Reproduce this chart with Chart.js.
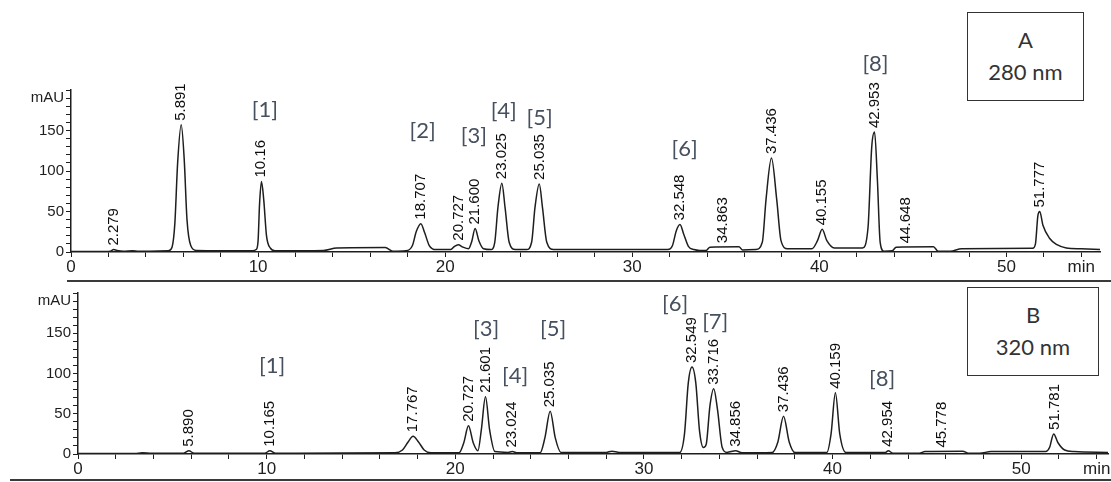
<!DOCTYPE html>
<html>
<head>
<meta charset="utf-8">
<script src="https://cdn.jsdelivr.net/npm/chart.js@4.4.1/dist/chart.umd.min.js"></script>
<style>
  body { margin: 0; background: #fff; width: 1111px; height: 482px; position: relative; overflow: hidden; }
  canvas { position: absolute; left: 0; }
  #chartA { top: 0; }
  #chartB { top: 282px; }
  .rule { position: absolute; height: 0; border-top: 2px solid #3a3a3a; }
  .box { position: absolute; border: 1.5px solid #333; background: #fff; text-align: center;
         font-family: Lato, "Open Sans", sans-serif; font-size: 22px; line-height: 32px; color: #333; box-sizing: border-box; padding-top: 11px; }
</style>
</head>
<body>
<canvas id="chartA" width="1111" height="282"></canvas>
<canvas id="chartB" width="1111" height="200"></canvas>
<div class="rule" style="left:67px; top:280px; width:1044px;"></div>
<div class="rule" style="left:10px; top:479px; width:1101px;"></div>
<div class="box" style="left:967px; top:12px; width:117px; height:89px;">A<br>280 nm</div>
<div class="box" style="left:967px; top:287px; width:132px; height:89px;">B<br>320 nm</div>
<script>
// panel A, 280 nm: trace (min, mAU)
const timeA = [
  0, 1.5, 2.1, 2.28, 2.45, 2.8, 3.3, 3.6, 4.2,
  5.2, 5.4, 5.55, 5.7, 5.89, 6.05, 6.2, 6.4, 6.7,
  9.7, 9.9, 10.0, 10.08, 10.18, 10.3, 10.45, 10.65, 10.9,
  13.5, 14.2, 16.8, 17.2,
  17.9, 18.25, 18.45, 18.7, 18.9, 19.15, 19.5,
  20.3, 20.5, 20.7, 20.95, 21.25, 21.42, 21.6, 21.8, 22.05,
  22.45, 22.65, 22.82, 23.03, 23.2, 23.42, 23.75,
  24.35, 24.62, 24.8, 25.03, 25.2, 25.43, 25.8,
  31.9, 32.15, 32.35, 32.55, 32.75, 33.0, 33.3,
  33.6, 33.95, 34.15, 35.7, 35.9,
  36.6, 36.95, 37.15, 37.44, 37.72, 37.95, 38.3,
  39.6, 39.9, 40.15, 40.4, 40.8,
  42.3, 42.6, 42.8, 42.95, 43.1, 43.25, 43.45,
  43.9, 44.1, 46.1, 46.35, 47.0, 47.6,
  51.4, 51.55, 51.68, 51.78, 51.95, 52.3, 52.7, 53.2, 54.0, 55
];
const mauA = [
  0.5, 0.5, 1, 3, 2, 1, 1.5, 1, 1,
  1.5, 6, 35, 110, 157, 115, 40, 8, 2,
  1.5, 3, 14, 60, 87, 65, 20, 5, 1.5,
  2, 5, 5.5, 1,
  1.5, 8, 25, 35, 24, 8, 3,
  3, 7, 9, 6, 4, 13, 29, 14, 4,
  3, 12, 55, 85, 55, 12, 3,
  3, 12, 55, 84, 55, 12, 3,
  3, 8, 26, 34, 22, 7, 3,
  2, 2, 6, 6.5, 2.5,
  3, 12, 65, 116, 65, 14, 4,
  4, 14, 28, 14, 5,
  5, 30, 130, 148, 90, 12, 1,
  1.5, 6, 6.5, 1, 1, 4,
  4.5, 10, 45, 50, 33, 17, 9, 5, 4, 3
];
const peaksA = ['2.279', '5.891', '10.16', '18.707', '20.727', '21.600', '23.025', '25.035',
                '32.548', '34.863', '37.436', '40.155', '42.953', '44.648', '51.777'];
const compoundsA = ['[1]', '[2]', '[3]', '[4]', '[5]', '[6]', '[8]'];
const compoundTimeA = [10.36, 18.8, 21.53, 23.13, 25.05, 32.8, 43.0];
const compoundMauA = [176, 149, 143, 174, 166, 127, 232];

// panel B, 320 nm
const timeB = [
  0, 3.0, 3.4, 3.9, 5.6, 5.88, 6.15, 9.9, 10.17, 10.45,
  16.8, 17.2, 17.5, 17.76, 18.05, 18.35, 18.7,
  20.2, 20.45, 20.7, 20.95, 21.2, 21.38, 21.6, 21.82, 22.1,
  22.8, 23.02, 23.3,
  24.5, 24.75, 25.03, 25.3, 25.6,
  28.0, 28.3, 28.7,
  31.9, 32.15, 32.35, 32.55, 32.75, 32.95, 33.15, 33.3, 33.5, 33.7, 33.9, 34.15, 34.4,
  34.86, 35.2, 36.8, 37.1, 37.4, 37.7, 38.0,
  39.7, 39.92, 40.15, 40.38, 40.7,
  42.8, 42.95, 43.2, 44.6, 44.9, 46.9, 47.2, 47.8, 48.4,
  51.3, 51.5, 51.72, 51.95, 52.3, 52.8, 54.6
];
const mauB = [
  0.5, 0.5, 1.5, 1, 1, 4, 1, 1, 4, 1,
  1.5, 5, 15, 22, 15, 5, 1.5,
  1.5, 14, 35, 14, 4, 30, 71, 30, 3,
  2, 3, 1.5,
  1.5, 20, 53, 20, 2,
  2, 3.5, 2,
  2, 25, 88, 108, 88, 28, 8, 12, 60, 81, 55, 8, 2,
  4, 1.5, 2, 15, 47, 15, 2,
  2, 25, 76, 25, 2,
  2, 4, 1, 1, 3, 3.5, 1, 1, 3,
  3, 8, 25, 14, 5, 3, 2
];
const peaksB = ['5.890', '10.165', '17.767', '20.727', '21.601', '23.024', '25.035', '32.549',
                '33.716', '34.856', '37.436', '40.159', '42.954', '45.778', '51.781'];
const compoundsB = ['[1]', '[3]', '[4]', '[5]', '[6]', '[7]', '[8]'];
const compoundTimeB = [10.29, 21.63, 23.17, 25.19, 31.65, 33.78, 42.63];
const compoundMauB = [109, 156, 97, 156, 186, 164, 93];

const timeTicks = [0, 2, 4, 6, 8, 10, 12, 14, 16, 18, 20, 22, 24, 26, 28, 30, 32, 34, 36, 38, 40, 42, 44, 46, 48, 50, 52, 54];
const mauTicks = [0, 10, 20, 30, 40, 50, 60, 70, 80, 90, 100, 110, 120, 130, 140, 150, 160, 170, 180, 190, 200];

const axisFont = '"Liberation Sans", Arial, sans-serif';
const ink = '#1e1e1e';

// retention time labels + compound numbers, placed through the scales
const labelPlugin = {
  id: 'peakLabels',
  afterDraw(chart) {
    const cfg = chart.options.plugins.peakLabels;
    const ctx = chart.ctx;
    const xs = chart.scales.x, ys = chart.scales.y;
    ctx.save();
    ctx.fillStyle = '#0d0d0d';
    ctx.font = '15px ' + axisFont;
    ctx.textAlign = 'left';
    ctx.textBaseline = 'middle';
    cfg.peaks.forEach(p => {
      const rt = parseFloat(p);
      let top = null, nearest = 0, best = 1e9;
      cfg.time.forEach((t, i) => {
        const d = Math.abs(t - rt);
        if (d < 0.35 && (top === null || cfg.mau[i] > top)) top = cfg.mau[i];
        if (d < best) { best = d; nearest = cfg.mau[i]; }
      });
      if (top === null) top = nearest;
      const px = xs.getPixelForValue(rt);
      const py = ys.getPixelForValue(top) - 4;
      ctx.save();
      ctx.translate(px, py);
      ctx.rotate(-Math.PI / 2);
      ctx.fillText(p, 0, 0);
      ctx.restore();
    });
    ctx.font = '22px Lato, "Open Sans", sans-serif';
    ctx.fillStyle = '#46505e';
    ctx.textAlign = 'center';
    cfg.names.forEach((n, i) => {
      ctx.fillText(n, xs.getPixelForValue(cfg.nameTime[i]), ys.getPixelForValue(cfg.nameMau[i]));
    });
    ctx.restore();
  }
};

const makeChart = (id, time, mau, peaks, names, nameTime, nameMau, xMax, yWidth, xHeight, pad) => {
  return new Chart(document.getElementById(id), {
    type: 'line',
    data: {
      datasets: [{
        data: time.map((t, i) => ({ x: t, y: mau[i] })),
        borderColor: ink,
        borderWidth: 1.5,
        pointRadius: 0,
        cubicInterpolationMode: 'monotone',
        fill: false
      }]
    },
    options: {
      responsive: false,
      animation: false,
      layout: { padding: pad },
      plugins: {
        legend: { display: false },
        tooltip: { enabled: false },
        peakLabels: { time: time, mau: mau, peaks: peaks, names: names, nameTime: nameTime, nameMau: nameMau }
      },
      scales: {
        x: {
          type: 'linear',
          min: 0,
          max: xMax,
          afterBuildTicks: s => { s.ticks = timeTicks.map(v => ({ value: v })); },
          afterFit: s => { s.height = xHeight; },
          ticks: {
            autoSkip: false,
            maxRotation: 0,
            padding: 0,
            color: ink,
            font: { size: 17, family: axisFont },
            callback: v => v % 10 === 0 ? String(v) : (v === 54 ? 'min' : '')
          },
          grid: { drawOnChartArea: false, tickLength: 5, color: ink },
          border: { color: ink, width: 1.5 }
        },
        y: {
          min: 0,
          max: 200,
          afterBuildTicks: s => { s.ticks = mauTicks.map(v => ({ value: v })); },
          afterFit: s => { s.width = yWidth; },
          ticks: {
            autoSkip: false,
            padding: 2,
            color: ink,
            font: { size: 15, family: axisFont },
            callback: v => (v % 50 === 0 && v <= 150) ? String(v) : (v === 190 ? 'mAU' : '')
          },
          grid: { drawOnChartArea: false, tickLength: 5, color: ink },
          border: { color: ink, width: 1.5 }
        }
      }
    },
    plugins: [labelPlugin]
  });
};

makeChart('chartA', timeA, mauA, peaksA, compoundsA, compoundTimeA, compoundMauA, 55, 71, 30,
  { top: 90, right: 11, left: 0, bottom: 0 });
makeChart('chartB', timeB, mauB, peaksB, compoundsB, compoundTimeB, compoundMauB, 54.6, 78, 28,
  { top: 10, right: 3, left: 0, bottom: 0 });
</script>
</body>
</html>
